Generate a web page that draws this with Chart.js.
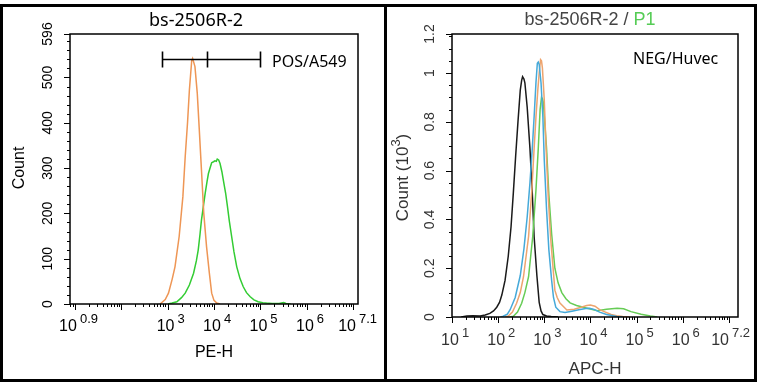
<!DOCTYPE html>
<html>
<head>
<meta charset="utf-8">
<script src="https://cdn.jsdelivr.net/npm/chart.js@4.4.1/dist/chart.umd.min.js"></script>
<style>
  body { margin: 0; background: #fff; }
  #wrap { position: relative; width: 757px; height: 385px; }
  canvas { position: absolute; top: 0; }
  #left { left: 0; }
  #right { left: 387px; }
  .frame { position: absolute; left: 0; top: 4px; width: 757px; height: 378px; border: 3px solid #000; box-sizing: border-box; }
  .divider { position: absolute; left: 384px; top: 4px; width: 3px; height: 378px; background: #000; }
</style>
</head>
<body>
<div id="wrap">
  <canvas id="left" width="384" height="385"></canvas>
  <canvas id="right" width="370" height="385"></canvas>
  <div class="frame"></div>
  <div class="divider"></div>
</div>
<script>
// ---- left panel: POS / A549, PE-H (x values as log10 exponents) ----
const leftOrangeLog = [2.84, 2.95, 3.02, 3.10, 3.16, 3.25, 3.33, 3.38, 3.43, 3.47, 3.52, 3.54, 3.56, 3.59, 3.64, 3.68, 3.73, 3.78, 3.84, 3.90, 3.95, 4.00, 4.06, 4.13];
const leftOrangeCount = [0, 10, 24, 55, 82, 149, 237, 325, 400, 472, 537, 542, 535, 524, 465, 391, 296, 200, 126, 68, 24, 8, 2, 0];
const leftGreenLog = [3.01, 3.10, 3.20, 3.30, 3.38, 3.47, 3.56, 3.62, 3.66, 3.70, 3.73, 3.77, 3.81, 3.85, 3.88, 3.92, 3.95, 3.99, 4.02, 4.05, 4.07, 4.10, 4.13, 4.17, 4.20, 4.25, 4.29, 4.33, 4.38, 4.43, 4.49, 4.56, 4.63, 4.70, 4.78, 4.86, 4.95, 5.05, 5.13, 5.25, 5.40, 5.50, 5.55, 5.65];
const leftGreenCount = [0, 2, 5, 14, 24, 42, 68, 95, 119, 155, 185, 215, 244, 270, 288, 302, 312, 314, 316, 315, 320, 318, 310, 292, 274, 245, 215, 183, 149, 115, 82, 56, 38, 25, 16, 9, 5, 3, 2, 1, 1, 3, 1, 0];
const gateLog = [2.88, 3.85, 5.0];
const gateCount = 541;
const leftYMajor = [0, 100, 200, 300, 400, 500, 596];
const leftXLabels = ['0.9', '3', '4', '5', '6', '7.1'];

// ---- right panel: NEG / Huvec, APC-H (counts in 10^3) ----
const rightBlackLog = [1.20, 1.32, 1.45, 1.61, 1.72, 1.82, 1.90, 1.97, 2.03, 2.08, 2.15, 2.22, 2.28, 2.33, 2.38, 2.43, 2.48, 2.51, 2.53, 2.56, 2.58, 2.63, 2.69, 2.74, 2.78, 2.84, 2.89, 2.93, 2.97, 3.05, 3.15, 3.30];
const rightBlackCount = [0, 0.004, 0.005, 0.004, 0.008, 0.015, 0.025, 0.04, 0.06, 0.09, 0.15, 0.25, 0.37, 0.51, 0.66, 0.80, 0.93, 0.97, 0.985, 0.975, 0.96, 0.86, 0.69, 0.51, 0.33, 0.17, 0.06, 0.025, 0.01, 0.004, 0.002, 0];
const rightBlueLog = [2.05, 2.11, 2.20, 2.26, 2.37, 2.48, 2.56, 2.63, 2.69, 2.74, 2.78, 2.82, 2.85, 2.87, 2.89, 2.93, 2.97, 3.00, 3.05, 3.10, 3.16, 3.20, 3.25, 3.34, 3.45, 3.60, 3.75, 3.90, 3.98, 4.08, 4.20, 4.35, 4.57, 4.70];
const rightBlueCount = [0, 0.003, 0.012, 0.03, 0.08, 0.17, 0.28, 0.41, 0.55, 0.69, 0.82, 0.96, 1.04, 1.045, 1.035, 0.96, 0.82, 0.645, 0.44, 0.275, 0.15, 0.08, 0.04, 0.022, 0.018, 0.024, 0.03, 0.035, 0.036, 0.031, 0.02, 0.01, 0.002, 0];
const rightOrangeLog = [2.15, 2.22, 2.31, 2.40, 2.48, 2.55, 2.66, 2.73, 2.78, 2.82, 2.86, 2.89, 2.92, 2.94, 2.96, 3.00, 3.04, 3.09, 3.14, 3.20, 3.23, 3.28, 3.34, 3.49, 3.65, 3.80, 3.92, 4.00, 4.10, 4.20, 4.30, 4.45, 4.57, 4.70, 4.85];
const rightOrangeCount = [0, 0.004, 0.02, 0.056, 0.1, 0.165, 0.33, 0.52, 0.69, 0.82, 0.93, 1.0, 1.055, 1.05, 1.02, 0.89, 0.69, 0.48, 0.32, 0.18, 0.11, 0.08, 0.057, 0.029, 0.032, 0.04, 0.047, 0.049, 0.044, 0.03, 0.022, 0.01, 0.005, 0.002, 0];
const rightGreenLog = [2.25, 2.33, 2.42, 2.51, 2.58, 2.66, 2.75, 2.82, 2.87, 2.91, 2.94, 2.96, 2.98, 3.05, 3.10, 3.16, 3.23, 3.30, 3.38, 3.47, 3.56, 3.70, 3.93, 4.15, 4.35, 4.58, 4.72, 4.88, 5.10, 5.30, 5.45];
const rightGreenCount = [0, 0.003, 0.02, 0.056, 0.1, 0.165, 0.33, 0.52, 0.69, 0.85, 0.90, 0.895, 0.88, 0.69, 0.5, 0.34, 0.2, 0.14, 0.1, 0.075, 0.058, 0.047, 0.036, 0.026, 0.032, 0.036, 0.034, 0.022, 0.011, 0.004, 0];
const rightYMajor = [0, 0.2, 0.4, 0.6, 0.8, 1, 1.16];
const rightYLabels = ['0', '0.2', '0.4', '0.6', '0.8', '1', '1.2'];
const rightXLabels = ['1', '2', '3', '4', '5', '6', '7.2'];

const AX = 'Liberation Sans, Arial, sans-serif';
const CN = 'Noto Sans, sans-serif';

function toPoints(logs, counts) {
  return logs.map((e, i) => ({ x: Math.pow(10, e), y: counts[i] }));
}

function logTicks(s) {
  const t = [];
  const lo = Math.floor(Math.log10(s.min)), hi = Math.ceil(Math.log10(s.max));
  for (let k = lo; k <= hi; k++) {
    for (let m = 1; m < 10; m++) {
      const v = m * Math.pow(10, k);
      if (v >= s.min * 0.999 && v <= s.max * 1.001) t.push({ value: v, major: m === 1 });
    }
  }
  s.ticks = t;
}

function linTicks(majors, labels, step) {
  return function (s) {
    const t = [];
    const top = majors[majors.length - 1];
    for (let i = 0; i * step < top - 1e-9; i++) {
      const v = i * step;
      const j = majors.findIndex(m => Math.abs(m - v) < 1e-9);
      t.push({ value: v, major: j >= 0, text: j >= 0 ? labels[j] : '' });
    }
    t.push({ value: top, major: true, text: labels[labels.length - 1] });
    s.ticks = t;
  };
}

function drawPow(ctx, exp, x, y, size, color, maxRight) {
  const base = size + 'px ' + AX, sup = (size - 3) + 'px ' + AX;
  ctx.font = base; const bw = ctx.measureText('10').width;
  ctx.font = sup; const sw = ctx.measureText(exp).width;
  let start = x - bw / 2 - 2;
  if (start + bw + 3 + sw > maxRight) start = maxRight - bw - 3 - sw;
  ctx.fillStyle = color;
  ctx.textAlign = 'left';
  ctx.textBaseline = 'middle';
  ctx.font = base; ctx.fillText('10', start, y);
  ctx.font = sup; ctx.fillText(exp, start + bw + 3, y - 8);
}

const decor = {
  id: 'decor',
  afterDraw(chart, args, o) {
    const ctx = chart.ctx, a = chart.chartArea;
    const xs = chart.scales.x, ys = chart.scales.y;
    ctx.save();
    ctx.strokeStyle = '#000';
    ctx.lineWidth = 1.5;
    ctx.strokeRect(a.left, a.top, a.right - a.left, a.bottom - a.top);
    ctx.lineWidth = 1;
    ctx.beginPath();
    xs.ticks.forEach(t => {
      const px = Math.round(xs.getPixelForValue(t.value)) + 0.5;
      ctx.moveTo(px, a.bottom);
      ctx.lineTo(px, a.bottom + (t.major ? 6 : 3));
    });
    ys.ticks.forEach(t => {
      const py = Math.round(ys.getPixelForValue(t.value)) + 0.5;
      ctx.moveTo(a.left, py);
      ctx.lineTo(a.left - (t.major ? 6 : 3), py);
    });
    ctx.stroke();

    // x tick labels 10^n
    o.xLabels.forEach(e => {
      const px = xs.getPixelForValue(Math.pow(10, parseFloat(e)));
      drawPow(ctx, e, px, a.bottom + o.xLabelGap, 16, o.color, chart.width - 7);
    });

    // axis titles
    ctx.fillStyle = o.color;
    ctx.textAlign = 'center';
    ctx.textBaseline = 'middle';
    ctx.font = o.axisSize + 'px ' + AX;
    ctx.fillText(o.xTitle, (a.left + a.right) / 2, a.bottom + o.xTitleGap);
    ctx.save();
    ctx.translate(o.yTitleX, (a.top + a.bottom) / 2 + o.yTitleShift);
    ctx.rotate(-Math.PI / 2);
    ctx.textAlign = 'left';
    const parts = o.yTitle;
    let total = 0;
    parts.forEach(p => { ctx.font = (p.sup ? o.axisSize - 4 : o.axisSize) + 'px ' + AX; total += ctx.measureText(p.t).width; });
    let cx = -total / 2;
    parts.forEach(p => {
      ctx.font = (p.sup ? o.axisSize - 4 : o.axisSize) + 'px ' + AX;
      ctx.fillText(p.t, cx, p.sup ? -7 : 0);
      cx += ctx.measureText(p.t).width;
    });
    ctx.restore();

    // title
    ctx.textAlign = 'left';
    ctx.font = o.titleFont;
    let tw = 0;
    o.title.forEach(p => { tw += ctx.measureText(p.t).width; });
    let tx = o.titleX - tw / 2;
    o.title.forEach(p => {
      ctx.fillStyle = p.c;
      ctx.fillText(p.t, tx, o.titleY);
      tx += ctx.measureText(p.t).width;
    });

    // sample label
    ctx.fillStyle = '#000';
    ctx.font = '16px ' + CN;
    ctx.fillText(o.note, o.noteX, o.noteY);

    // gate marker
    if (o.gate) {
      const gy = Math.round(ys.getPixelForValue(o.gate.y)) + 0.5;
      const gx = o.gate.x.map(e => Math.round(xs.getPixelForValue(Math.pow(10, e))) + 0.5);
      ctx.strokeStyle = '#000';
      ctx.lineWidth = 1.6;
      ctx.beginPath();
      ctx.moveTo(gx[0], gy); ctx.lineTo(gx[gx.length - 1], gy);
      gx.forEach(x => { ctx.moveTo(x, gy - 8); ctx.lineTo(x, gy + 8); });
      ctx.stroke();
    }
    ctx.restore();
  }
};

function line(points, color) {
  return { data: points, borderColor: color, borderWidth: 1.5, pointRadius: 0, fill: false, tension: 0 };
}

function makeChart(id, datasets, xr, yr, yTicks, yPad, pad, yWidth, xHeight, decorOpts) {
  return new Chart(document.getElementById(id), {
    type: 'line',
    data: { datasets: datasets },
    plugins: [decor],
    options: {
      responsive: false,
      animation: false,
      events: [],
      parsing: true,
      layout: { padding: pad },
      plugins: { legend: { display: false }, tooltip: { enabled: false }, decor: decorOpts },
      scales: {
        x: {
          type: 'logarithmic',
          min: Math.pow(10, xr[0]),
          max: Math.pow(10, xr[1]),
          afterBuildTicks: logTicks,
          afterFit: s => { s.height = xHeight; },
          ticks: { display: false, autoSkip: false },
          grid: { display: false, drawTicks: false },
          border: { display: false }
        },
        y: {
          type: 'linear',
          min: yr[0],
          max: yr[1],
          afterBuildTicks: yTicks,
          afterFit: s => { s.width = yWidth; },
          ticks: {
            autoSkip: false,
            minRotation: 90,
            maxRotation: 90,
            crossAlign: 'center',
            padding: yPad,
            color: decorOpts.color,
            font: { family: AX, size: 14 },
            callback: (v, i, ticks) => ticks[i].text || ''
          },
          grid: { display: false, drawTicks: false },
          border: { display: false }
        }
      }
    }
  });
}

makeChart('left',
  [
    line(toPoints(leftOrangeLog, leftOrangeCount), '#EE9655'),
    line(toPoints(leftGreenLog, leftGreenCount), '#33CC33')
  ],
  [0.9, 7.1], [0, 596], linTicks(leftYMajor, leftYMajor.map(String), 20), 10,
  { left: 0, top: 34, right: 26, bottom: 0 }, 70, 81,
  {
    color: '#000', xLabels: leftXLabels, xLabelGap: 23, xTitle: 'PE-H', xTitleGap: 49, axisSize: 16,
    yTitle: [{ t: 'Count' }], yTitleX: 20, yTitleShift: -1,
    title: [{ t: 'bs-2506R-2', c: '#000' }], titleFont: '18px ' + CN, titleX: 196, titleY: 21,
    note: 'POS/A549', noteX: 272, noteY: 62,
    gate: { x: gateLog, y: gateCount }
  });

makeChart('right',
  [
    line(toPoints(rightBlueLog, rightBlueCount), '#45A9D9'),
    line(toPoints(rightOrangeLog, rightOrangeCount), '#EDA46E'),
    line(toPoints(rightGreenLog, rightGreenCount), '#66CC55'),
    line(toPoints(rightBlackLog, rightBlackCount), '#1a1a1a')
  ],
  [1, 7.2], [0, 1.16], linTicks(rightYMajor, rightYLabels, 0.05), 12,
  { left: 0, top: 34, right: 19, bottom: 0 }, 65, 68,
  {
    color: '#333', xLabels: rightXLabels, xLabelGap: 24, xTitle: 'APC-H', xTitleGap: 52, axisSize: 17,
    yTitle: [{ t: 'Count (10' }, { t: '3', sup: true }, { t: ')' }], yTitleX: 16, yTitleShift: 2,
    title: [{ t: 'bs-2506R-2', c: '#444' }, { t: ' / ', c: '#444' }, { t: 'P1', c: '#55CC55' }], titleFont: '18px ' + AX, titleX: 203, titleY: 20,
    note: 'NEG/Huvec', noteX: 246, noteY: 59
  });
</script>
</body>
</html>
